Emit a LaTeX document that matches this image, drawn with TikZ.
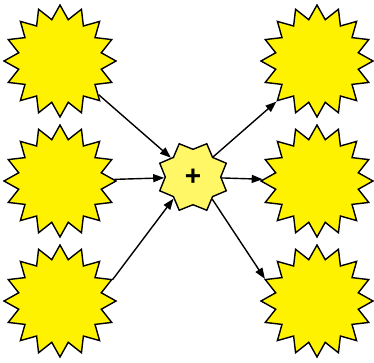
\documentclass[tikz,border=0pt]{standalone}
\usepackage{fontspec}
\setmainfont{Liberation Sans}
\usetikzlibrary{arrows.meta, shapes.geometric}

\begin{document}
\begin{tikzpicture}[
    x=1pt, y=-1pt,
    burst/.style={draw, star, star points=16, star point ratio=1.33, fill=yellow, line width=1.4pt, inner sep=0pt, minimum size=112pt},
    hub/.style={draw, star, star points=8, star point ratio=1.3, shape border rotate=22.5, fill=yellow!60!white, line width=1.4pt, inner sep=0pt, minimum size=72pt, font=\fontsize{28}{28}\selectfont\bfseries},
    arrow/.style={-{Triangle[length=11pt, width=8pt]}, line width=1.4pt},
]
\useasboundingbox (0,0) rectangle (374,362);

% Input bursts
\node[burst] (in1) at (60,61) {};
\node[burst] (in2) at (60,181) {};
\node[burst] (in3) at (60,301) {};

% Center
\node[hub] (plus) at (193,177) {+};

% Output bursts
\node[burst] (out1) at (317,61) {};
\node[burst] (out2) at (317,181) {};
\node[burst] (out3) at (317,301) {};

% Connecting lines
\draw[arrow] (in1) -- (plus);
\draw[arrow] (in2) -- (plus);
\draw[arrow] (in3.22.5) -- (plus.228);
\draw[arrow] (plus.45) -- (out1.-135);
\draw[arrow] (plus) -- (out2);
\draw[arrow] (plus.-49) -- (out3.157.5);

\end{tikzpicture}
\end{document}
